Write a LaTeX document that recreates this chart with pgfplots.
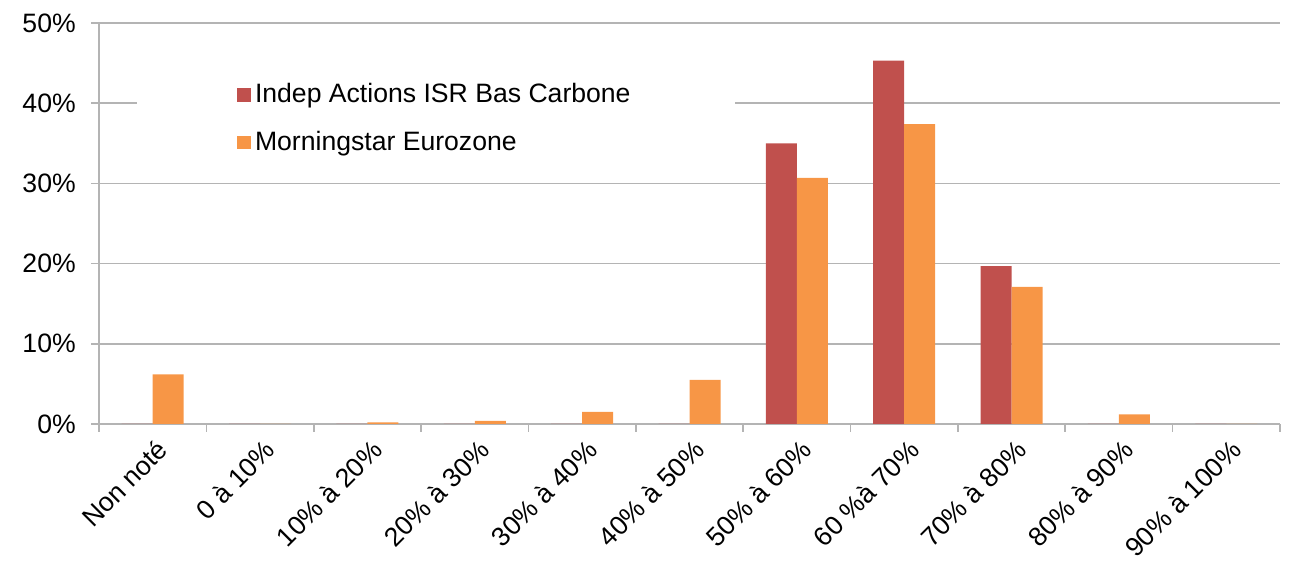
\documentclass[border=0pt]{standalone}
\usepackage{fontspec}
\setmainfont{Liberation Sans}
\usepackage{pgfplots}
\pgfplotsset{compat=1.18}
\definecolor{barred}{HTML}{C0504D}
\definecolor{barorange}{HTML}{F79646}
\definecolor{gridgrey}{RGB}{180,180,180}
\begin{document}
\fontsize{13.3}{15}\selectfont
\begin{tikzpicture}
\begin{axis}[
    scale only axis,
    width=590.5pt, height=200.5pt,
    xmin=-0.5, xmax=10.5,
    ymin=0, ymax=50,
    ybar=0pt, bar width=15.5pt,
    xtick={0,...,10},
    xticklabels={Non noté, 0 à 10\%, 10\% à 20\%, 20\% à 30\%, 30\% à 40\%, 40\% à 50\%, 50\% à 60\%, 60 \%à 70\%, 70\% à 80\%, 80\% à 90\%, 90\% à 100\%},
    major x tick style={draw=none},
    minor xtick={-0.5,0.5,...,10.5},
    minor x tick style={gridgrey, line width=0.8pt},
    minor tick length=4pt,
    xticklabel style={rotate=45, anchor=north east, inner sep=1pt, yshift=-2pt, font=\fontsize{13.3}{15}\selectfont},
    ytick={0,10,...,50},
    yticklabel={\pgfmathprintnumber{\tick}\%},
    yticklabel style={font=\fontsize{13.3}{15}\selectfont, xshift=-3pt},
    /pgf/number format/assume math mode=true,
    major tick length=4pt,
    tick align=outside,
    y tick style={gridgrey, line width=0.8pt},
    ymajorgrids,
    grid style={gridgrey, line width=0.8pt},
    axis x line*=bottom,
    axis y line*=left,
    axis line style={gridgrey, line width=0.8pt, -},
    legend style={at={(rel axis cs:0.0322,0.89)}, anchor=north west,
        fill=white, draw=none, inner xsep=50pt, inner ysep=6pt,
        row sep=8pt, font=\fontsize{13.3}{15}\selectfont},
    legend cell align=left,
    legend image code/.code={\fill[#1] (0pt,-3.4pt) rectangle (6.8pt,3.4pt);},
]
\addplot[fill=barred, draw=none] coordinates {
(0,0) (1,0) (2,0) (3,0) (4,0) (5,0) (6,35.0) (7,45.3) (8,19.7) (9,0) (10,0)};
\addplot[fill=barorange, draw=none] coordinates {
(0,6.2) (1,0) (2,0.2) (3,0.4) (4,1.5) (5,5.5) (6,30.7) (7,37.4) (8,17.1) (9,1.2) (10,0)};
\legend{Indep Actions ISR Bas Carbone, Morningstar Eurozone}
\end{axis}
\path (current axis.south west) ++(-49.5pt,-68.5pt);
\path (current axis.north east) ++(8.5pt,11.5pt);
\end{tikzpicture}
\end{document}
